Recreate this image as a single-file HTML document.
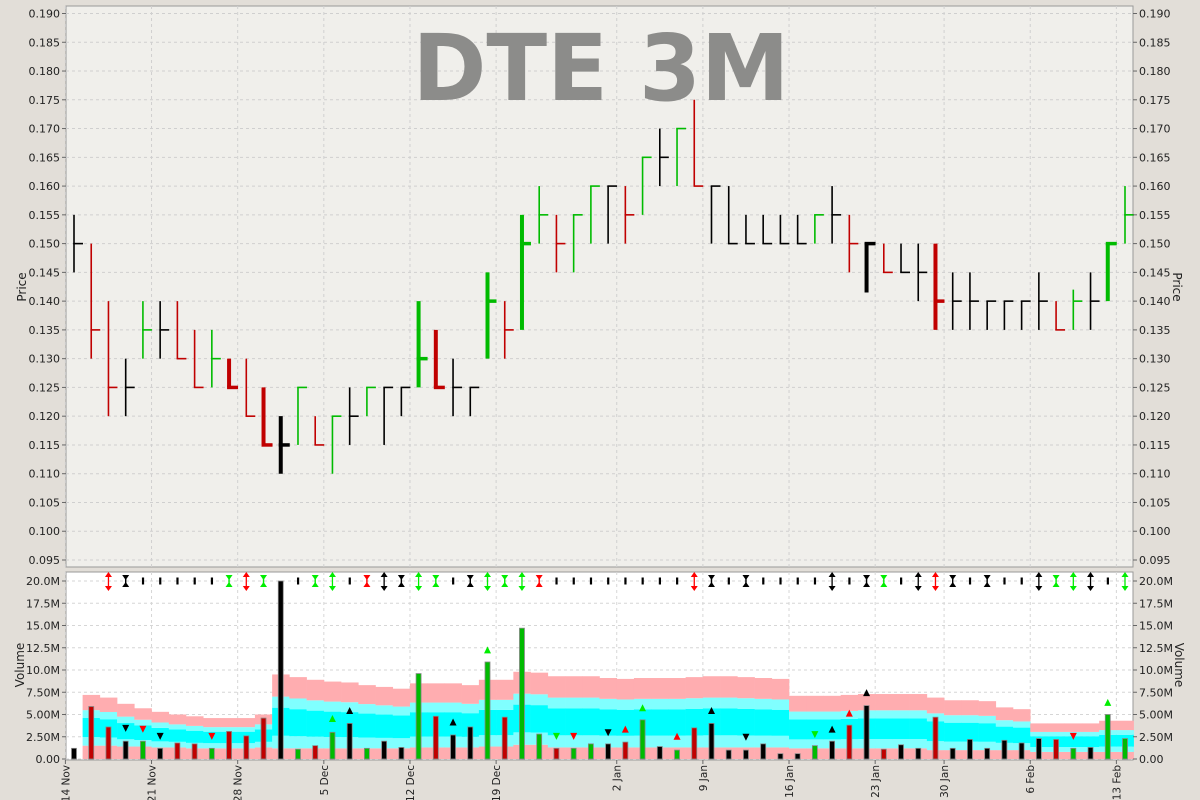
<!DOCTYPE html>
<html><head><meta charset="utf-8"><style>
html,body{margin:0;padding:0;background:#e2ded8;}
svg{display:block;font-family:"DejaVu Sans","Liberation Sans",sans-serif;}
</style></head><body>
<svg id="chart" width="1200" height="800" viewBox="0 0 1200 800">
<rect x="0" y="0" width="1200" height="800" fill="#e2ded8"/>
<rect x="66" y="6" width="1067" height="561" fill="#f0efeb" stroke="#999"/>
<rect x="66" y="572" width="1067" height="188" fill="#ffffff" stroke="#999"/>
<g id="grid"></g>
<text x="601" y="100" font-size="92" font-weight="bold" fill="#8c8c8a" text-anchor="middle" textLength="377" lengthAdjust="spacingAndGlyphs">DTE 3M</text>
<g id="bands"></g>
<g id="vbars"></g>
<g id="pbars"></g>
<g id="marks"></g>
<g id="axes" font-size="11" fill="#222"></g>
<text transform="translate(26,287) rotate(-90)" font-size="12" text-anchor="middle" fill="#222">Price</text>
<text transform="translate(1173,287) rotate(90)" font-size="12" text-anchor="middle" fill="#222">Price</text>
<text transform="translate(24,665) rotate(-90)" font-size="12" text-anchor="middle" fill="#222">Volume</text>
<text transform="translate(1175,665) rotate(90)" font-size="12" text-anchor="middle" fill="#222">Volume</text>
</svg>
<script>
const highs=[.155,.150,.140,.130,.140,.140,.140,.135,.135,.130,.130,.125,.120,.125,.120,.120,.125,.125,.125,.125,.140,.135,.130,.125,.145,.140,.155,.160,.155,.155,.160,.160,.160,.165,.170,.170,.175,.160,.160,.155,.155,.155,.155,.155,.160,.155,.150,.150,.150,.150,.150,.145,.145,.140,.140,.140,.145,.140,.142,.145,.150,.160];
const lows=[.145,.130,.120,.120,.130,.130,.130,.125,.125,.125,.120,.115,.110,.115,.115,.110,.115,.120,.115,.120,.125,.125,.120,.120,.130,.130,.135,.150,.145,.145,.150,.150,.150,.155,.160,.160,.160,.150,.150,.150,.150,.150,.150,.150,.150,.145,.1415,.145,.145,.140,.135,.135,.135,.135,.135,.135,.135,.135,.135,.135,.140,.150];
const closes=[.150,.135,.125,.125,.135,.135,.130,.125,.130,.125,.120,.115,.115,.125,.115,.120,.120,.125,.125,.125,.130,.125,.125,.125,.140,.135,.150,.155,.150,.155,.160,.160,.155,.165,.165,.170,.160,.160,.150,.150,.150,.150,.150,.155,.155,.150,.150,.145,.145,.145,.140,.140,.140,.140,.140,.140,.140,.135,.140,.140,.150,.155];
const dirs="krrkgkrrgrrrkgrgkgkkgrkkgrggrggkrgkgrkkkkkkgkrkrkkrkkkkkkrgkgg";
const heavy=[9,11,12,20,21,24,26,46,50,60];
const volumes=[1.2,5.9,3.6,2.0,2.0,1.2,1.8,1.7,1.2,3.1,2.6,4.6,20.0,1.1,1.5,3.0,4.0,1.2,2.0,1.3,9.6,4.8,2.7,3.6,10.9,4.7,14.7,2.8,1.2,1.2,1.7,1.7,1.9,4.4,1.4,1.0,3.5,4.0,1.0,1.0,1.7,0.6,0.6,1.5,2.0,3.8,6.0,1.1,1.6,1.2,4.7,1.2,2.2,1.2,2.1,1.8,2.3,2.2,1.2,1.3,5.0,2.3];
const bandHi=[null,7.2,6.9,6.2,5.7,5.3,5.0,4.8,4.6,4.6,4.6,5.0,9.5,9.2,8.9,8.7,8.6,8.3,8.1,7.9,8.5,8.5,8.5,8.3,8.9,8.9,9.8,9.7,9.3,9.3,9.3,9.1,9.0,9.1,9.1,9.1,9.2,9.3,9.3,9.2,9.1,9.0,7.1,7.1,7.1,7.2,7.3,7.3,7.3,7.3,6.9,6.6,6.6,6.5,5.8,5.6,4.0,4.0,4.0,4.0,4.3,4.3];
const bandLo=[null,1.5,1.5,1.4,1.4,1.3,1.3,1.2,1.2,1.2,1.2,1.3,1.2,1.2,1.2,1.2,1.2,1.2,1.2,1.2,1.3,1.3,1.3,1.3,1.4,1.4,1.6,1.6,1.3,1.3,1.3,1.3,1.3,1.3,1.3,1.3,1.3,1.3,1.3,1.3,1.3,1.3,1.2,1.2,1.2,1.2,1.2,1.2,1.2,1.2,1.0,1.0,1.0,1.0,1.0,1.0,0.8,0.8,0.8,0.8,0.8,0.8];
const signalTypes="  aXiiiiiXaX iXaiXaXaXiXaXaXiiiiiiiiaXiXiiiiaiXXiaaXiXiiaXaaia";
const signalColors="  rkkkkkkgrgkkggkrkkggkkgggrkkkkkkkkrkkkkkkkkkkgkkrkkkkkkggkkg";
const triIdx=[3,4,5,8,15,16,22,24,28,29,31,32,33,35,37,39,43,44,45,46,58,60];
const triVal=[3.5,3.4,2.6,2.6,4.5,5.4,4.1,12.2,2.6,2.6,3.0,3.3,5.7,2.5,5.4,2.5,2.8,3.3,5.1,7.4,2.6,6.3];
const triDir="dddduuuuddduuuudduuudu";
const triCol="krkrgkkggrkrgrkkgkrkrg";
const dateLabels=["14 Nov","21 Nov","28 Nov","5 Dec","12 Dec","19 Dec","2 Jan","9 Jan","16 Jan","23 Jan","30 Jan","6 Feb","13 Feb"];
const dateIdx=[0,5,10,15,20,25,32,37,42,47,51,56,61];
const priceTicks=[0.095,0.100,0.105,0.110,0.115,0.120,0.125,0.130,0.135,0.140,0.145,0.150,0.155,0.160,0.165,0.170,0.175,0.180,0.185,0.190];
const volTicks=[0,2.5,5,7.5,10,12.5,15,17.5,20];
const volTickLabels=["0.00","2.50M","5.00M","7.50M","10.0M","12.5M","15.0M","17.5M","20.0M"];

const NS="http://www.w3.org/2000/svg";
const STEP=(1125-74)/61;
const X=i=>74+i*STEP;
const PY=p=>13.5+(0.190-p)/0.005*((560-13.5)/19);
const VY=v=>759-v*(759-581)/20;
const COL={k:"#000000",r:"#c00000",g:"#00bb00"};
const MCOL={k:"#000000",r:"#ff0000",g:"#00ee00"};
function mk(tag,attrs,parent){const e=document.createElementNS(NS,tag);for(const k in attrs)e.setAttribute(k,attrs[k]);parent.appendChild(e);return e;}
const grid=document.getElementById('grid'),axes=document.getElementById('axes');

priceTicks.forEach((t,i)=>{
  const y=PY(t);
  const g=mk('line',{x1:66,x2:1133,y1:y,y2:y,stroke:"#cfcfcf","stroke-dasharray":"3,3"},grid);
  
  
  const l=mk('text',{x:60,y:y+4,"text-anchor":"end"},axes);l.textContent=t.toFixed(3);
  
  
  const r=mk('text',{x:1139,y:y+4},axes);r.textContent=t.toFixed(3);
  
  
  mk('line',{x1:62,x2:66,y1:y,y2:y,stroke:"#666"},axes);
  mk('line',{x1:1133,x2:1137,y1:y,y2:y,stroke:"#666"},axes);
});
volTicks.forEach((t,i)=>{
  const y=VY(t);
  const g=mk('line',{x1:66,x2:1133,y1:y,y2:y,stroke:"#d6d6d6","stroke-dasharray":"3,3"},grid);
  
  
  const l=mk('text',{x:60,y:y+4,"text-anchor":"end"},axes);l.textContent=volTickLabels[i];
  
  
  const r=mk('text',{x:1139,y:y+4},axes);r.textContent=volTickLabels[i];
  
  
  mk('line',{x1:62,x2:66,y1:y,y2:y,stroke:"#666"},axes);
  mk('line',{x1:1133,x2:1137,y1:y,y2:y,stroke:"#666"},axes);
});
dateIdx.forEach((di,k)=>{
  const x=X(di)-STEP/2;
  const g1=mk('line',{x1:x,x2:x,y1:6,y2:567,stroke:"#d0d0d0","stroke-dasharray":"3,3"},grid);
  
  
  mk('line',{x1:x,x2:x,y1:572,y2:760,stroke:"#d6d6d6","stroke-dasharray":"3,3"},grid);
  mk('line',{x1:x,x2:x,y1:760,y2:764,stroke:"#666"},axes);
  const t=mk('text',{transform:`translate(${x+4},765) rotate(-90)`,"text-anchor":"end","font-size":"10.5"},axes);
  t.textContent=dateLabels[k];
  
  
});

const bands=document.getElementById('bands');
for(let i=0;i<volumes.length;i++){
  if(bandHi[i]==null)continue;
  const hi=bandHi[i],lo=bandLo[i],r=hi-lo;
  const lv=[0,lo,lo+0.17*r,lo+0.55*r,lo+0.7*r,hi];
  const cols=["#ffadb0","#80ffff","#00ffff","#80ffff","#ffadb0"];
  const x0=X(i)-STEP/2;
  for(let k=0;k<5;k++){
    const rc=mk('rect',{x:x0,y:VY(lv[k+1]),width:STEP+0.3,height:VY(lv[k])-VY(lv[k+1]),fill:cols[k]},bands);
    
    
  }
}
const vb=document.getElementById('vbars');
volumes.forEach((v,i)=>{
  const r=mk('rect',{x:X(i)-2.5,y:VY(v),width:5,height:VY(0)-VY(v),fill:COL[dirs[i]],stroke:"#888","stroke-width":0.8},vb);
  
  
});
const pb=document.getElementById('pbars');
highs.forEach((h,i)=>{
  const w=heavy.includes(i)?4:1.6;
  const c=COL[dirs[i]];const x=X(i);
  const g=mk('g',{},pb);
  
  
  mk('line',{x1:x,x2:x,y1:PY(h),y2:PY(lows[i]),stroke:c,"stroke-width":w},g);
  mk('line',{x1:x-w/2,x2:x+9,y1:PY(closes[i]),y2:PY(closes[i]),stroke:c,"stroke-width":heavy.includes(i)?3.5:1.6},g);
});
const mg=document.getElementById('marks');
for(let i=0;i<signalTypes.length;i++){
  const t=signalTypes[i];if(t===' ')continue;
  const c=MCOL[signalColors[i]];const x=X(i);const y=581;
  const g=mk('g',{},mg);
  
  
  if(t==='i'){mk('rect',{x:x-1,y:y-3.5,width:2.2,height:7,fill:c},g);}
  else if(t==='X'){
    mk('rect',{x:x-0.7,y:y-5,width:1.4,height:10,fill:c},g);
    mk('polygon',{points:`${x-3.5},${y-6} ${x+3.5},${y-6} ${x},${y-1}`,fill:c},g);
    mk('polygon',{points:`${x-3.5},${y+6} ${x+3.5},${y+6} ${x},${y+1}`,fill:c},g);
  } else if(t==='a'){
    mk('line',{x1:x,x2:x,y1:y-8,y2:y+8,stroke:c,"stroke-width":1.3},g);
    mk('polygon',{points:`${x-3.5},${y-4} ${x+3.5},${y-4} ${x},${y-9}`,fill:c},g);
    mk('polygon',{points:`${x-3.5},${y+5} ${x+3.5},${y+5} ${x},${y+10}`,fill:c},g);
  }
}
triIdx.forEach((ti,k)=>{
  const x=X(ti),y=VY(triVal[k]),c=MCOL[triCol[k]];
  const pts=triDir[k]==='u'?`${x-3.5},${y+3} ${x+3.5},${y+3} ${x},${y-4}`:`${x-3.5},${y-3} ${x+3.5},${y-3} ${x},${y+4}`;
  const p=mk('polygon',{points:pts,fill:c},mg);
  
  
});
</script>
</body></html>
